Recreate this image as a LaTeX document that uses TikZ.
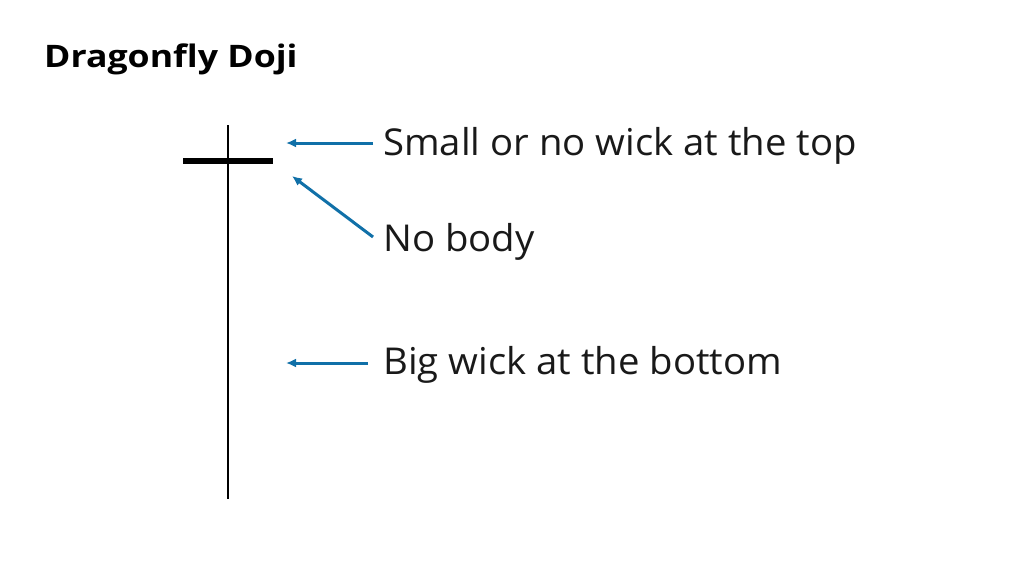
\documentclass[tikz,border=0pt]{standalone}
\usepackage{fontspec}
\setmainfont{Open Sans}[FakeStretch=1.035]
\newfontfamily\titlefont{Open Sans}[FakeStretch=1.15]
\usetikzlibrary{arrows.meta}
\definecolor{arrowblue}{RGB}{16,112,168}
\tikzset{
  lbl/.style={anchor=base west, inner sep=0pt, font=\fontsize{37}{42}\selectfont, text=black!90},
  callout/.style={draw=arrowblue, line width=3pt, -{Latex[length=10pt,width=9pt]}},
  wick/.style={draw=black, line width=2.2pt},
  body/.style={draw=black, line width=6pt}
}
\begin{document}
\begin{tikzpicture}[x=1pt,y=-1pt]
\useasboundingbox[fill=white] (0,0) rectangle (1024,576);
\node[anchor=base west, inner sep=0pt, font=\titlefont\bfseries\fontsize{31}{36}\selectfont] (title) at (44,67) {Dragonfly Doji};
\coordinate (wtop) at (228,125);
\coordinate (wbot) at (228,499);
\coordinate (bl) at (183,161);
\coordinate (br) at (273,161);
\draw[wick] (wtop) -- (wbot);
\draw[body] (bl) -- (br);
\node[lbl] (t1) at (383,155) {Small or no wick at the top};
\node[lbl] (t2) at (383,251) {No body};
\node[lbl] (t3) at (383,374) {Big wick at the bottom};
\coordinate (a1s) at (373,143);
\coordinate (a1e) at (286,143);
\coordinate (a2s) at (373,237);
\coordinate (a2e) at (292,176);
\coordinate (a3s) at (368,363);
\coordinate (a3e) at (286,363);
\draw[callout] (a1s) -- (a1e);
\draw[callout] (a2s) -- (a2e);
\draw[callout] (a3s) -- (a3e);
\end{tikzpicture}
\end{document}
